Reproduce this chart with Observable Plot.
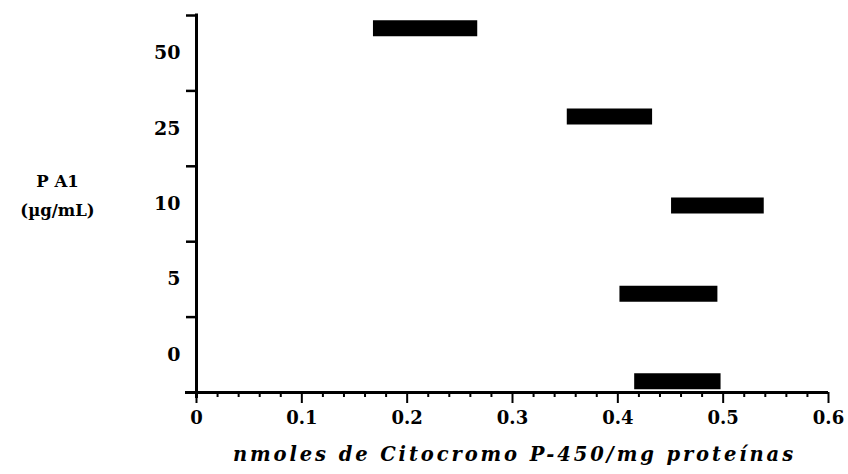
<!DOCTYPE html>
<html>
<head>
<meta charset="utf-8">
<script src="https://cdn.jsdelivr.net/npm/d3@7"></script>
<script src="https://cdn.jsdelivr.net/npm/@observablehq/plot@0.6"></script>
<style>
  html, body { margin: 0; padding: 0; background: #fff; }
  #chart { width: 848px; height: 474px; }
</style>
</head>
<body>
<div id="chart"></div>
<script>
// Concentration categories (P A1, µg/mL), bottom to top
const concentrations = ["0", "5", "10", "25", "50"];
// Label positions of the categories on the row index scale
const labelRow = [0.5, 1.5, 2.5, 3.5, 4.5];
// Row boundaries (tick marks on the y axis)
const rowBounds = [1, 2, 3, 4, 5];
// Vertical position of each bar on the row index scale
const barRow = [0.15, 1.31, 2.48, 3.66, 4.83];
// Bar extents: nmoles de Citocromo P-450 / mg proteínas
const barStart = [0.416, 0.402, 0.451, 0.352, 0.168];
const barEnd   = [0.498, 0.495, 0.539, 0.433, 0.267];
// X axis ticks
const xMajorTicks = [0, 0.1, 0.2, 0.3, 0.4, 0.5, 0.6];
const xMinorTicks = [0.02,0.04,0.06,0.08,0.12,0.14,0.16,0.18,0.22,0.24,0.26,0.28,0.32,0.34,0.36,0.38,0.42,0.44,0.46,0.48,0.52,0.54,0.56,0.58];

const xTitle = "nmoles de Citocromo P-450/mg proteínas";
const yTitle = "P A1\n(µg/mL)";

const bars = concentrations.map((c, i) => ({
  conc: c, row: barRow[i], lo: barStart[i], hi: barEnd[i]
}));

const serif = "'DejaVu Serif', 'Liberation Serif', serif";

const chart = Plot.plot({
  width: 848,
  height: 474,
  marginLeft: 196,
  marginRight: 20,
  marginTop: 15,
  marginBottom: 82,
  style: { fontFamily: serif, fontSize: "18px", fontWeight: "bold", color: "#000", background: "#fff" },
  x: { domain: [0, 0.6] },
  y: { domain: [0, 5] },
  marks: [
    // floating bars
    Plot.ruleY(bars, { y: "row", x1: "lo", x2: "hi", stroke: "#000", strokeWidth: 16 }),
    // y axis: boundary ticks
    Plot.axisY({ ticks: rowBounds, tickSize: 10, tickFormat: () => "", strokeWidth: 2.5, label: null }),
    // y axis: category labels
    Plot.axisY({ ticks: labelRow, tickSize: 0, tickPadding: 16, label: null,
      tickFormat: d => concentrations[labelRow.indexOf(d)], fontSize: 19, fontWeight: "bold" }),
    // x axis minor ticks
    Plot.axisX({ ticks: xMinorTicks, tickSize: 5, tickFormat: () => "", strokeWidth: 2, label: null }),
    // x axis major ticks + labels
    Plot.axisX({ ticks: xMajorTicks, tickSize: 11, tickPadding: 8, strokeWidth: 2,
      tickFormat: d => d === 0 ? "0" : d.toFixed(1), fontSize: 18, fontWeight: "bold", label: null }),
    // axis lines
    Plot.ruleY([0], { stroke: "#000", strokeWidth: 3, insetLeft: -11 }),
    Plot.ruleX([0], { stroke: "#000", strokeWidth: 3, insetBottom: -6, insetTop: -1.5 }),
    // x axis title
    Plot.text([xTitle], { frameAnchor: "bottom", dy: 68, dx: 2, fontSize: 19.5, fontStyle: "italic",
      fontWeight: "bold", fill: "#000", text: d => d }),
    // y axis title
    Plot.text([yTitle], { frameAnchor: "left", dx: -139, dy: -12, textAnchor: "middle",
      fontSize: 16.5, fontWeight: "bold", lineHeight: 1.75, fill: "#000", text: d => d })
  ]
});

// widen the letter spacing of the x axis title, as in the original print
d3.select(chart).selectAll("text")
  .filter(function () { return this.textContent === xTitle; })
  .style("letter-spacing", "2.9px");

document.getElementById("chart").appendChild(chart);
</script>
</body>
</html>
